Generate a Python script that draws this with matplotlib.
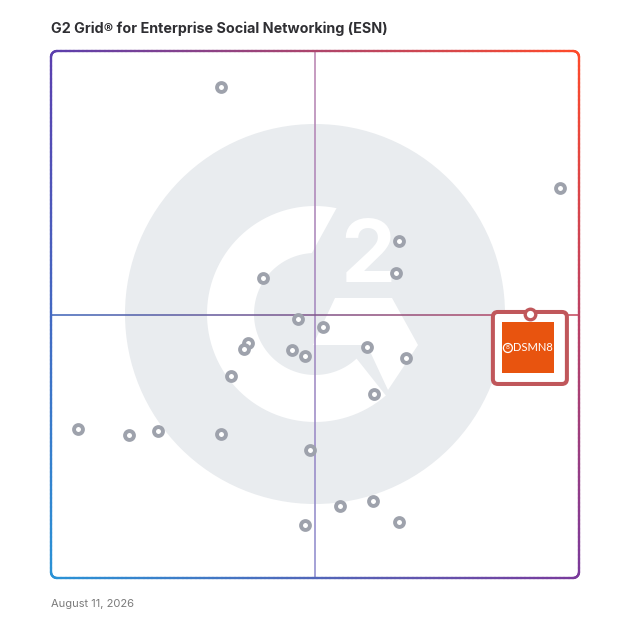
import numpy as np
import matplotlib
matplotlib.use("Agg")
import matplotlib.pyplot as plt
from matplotlib.collections import LineCollection
from matplotlib.patches import Circle, Polygon, FancyBboxPatch, Rectangle
from matplotlib.transforms import IdentityTransform
from matplotlib.colors import to_rgb

# products: (satisfaction, market presence) on a 0-100 grid
sat = [32.2, 96.4, 66.0, 65.3, 40.2, 46.7, 51.6, 37.3, 36.5, 45.6, 48.2, 59.8,
       67.3, 34.1, 61.2, 5.1, 14.7, 20.3, 32.2, 49.1, 54.7, 61.0, 48.1, 66.0]
pres = [93.2, 74.0, 63.9, 57.9, 57.0, 49.1, 47.7, 44.6, 43.5, 43.3, 42.1, 43.9,
        41.7, 38.3, 34.9, 28.3, 27.1, 27.8, 27.3, 24.3, 13.7, 14.6, 10.1, 10.7]
hl_name = "DSMN8"
hl_sat, hl_pres = 90.7, 50.1

title = "G2 Grid\u00ae for Enterprise Social Networking (ESN)"
date_txt = "August 11, 2026"

W = 628
fig = plt.figure(figsize=(W / 100, W / 100), dpi=100)

# background layer in pixel coords (y down)
bg = fig.add_axes([0, 0, 1, 1])
bg.set_xlim(0, W)
bg.set_ylim(W, 0)
bg.axis("off")

L, R, T, B = 51, 579, 51, 578
cx, cy = (L + R) / 2, (T + B) / 2

# G2 watermark
bg.add_patch(Circle((315, 314), 190, color="#e9ecef", lw=0, zorder=1))


def arc(r, a0, a1, n=80):
    a = np.radians(np.linspace(a0, a1, n))
    return np.column_stack([315 + r * np.cos(a), 314 - r * np.sin(a)])


ring = np.vstack([arc(108, 78.5, 311), arc(61, 313, 93)])
bg.add_patch(Polygon(ring, closed=True, color="white", lw=0, zorder=2))
bar = [(335, 298), (392, 298), (418, 345), (388, 390), (367, 345), (313, 345)]
bg.add_patch(Polygon(bar, closed=True, color="white", lw=0, zorder=2))
bg.text(368, 282, "2", color="white", fontsize=63, fontweight="bold",
        family="Inter", ha="center", va="baseline", zorder=2)

# gradient frame
corners = {"tl": "#5b3fae", "tr": "#ff4a2a", "bl": "#2a93d6", "br": "#7a3a9c"}
ctl, ctr, cbl, cbr = [np.array(to_rgb(corners[k])) for k in ("tl", "tr", "bl", "br")]


def grad(x, y):
    u = (x - L) / (R - L)
    v = (y - T) / (B - T)
    top = ctl * (1 - u) + ctr * u
    bot = cbl * (1 - u) + cbr * u
    return np.clip(top * (1 - v) + bot * v, 0, 1)


rad = 6
pts = []
for (x0, y0, x1, y1) in [(L + rad, T, R - rad, T), (R, T + rad, R, B - rad),
                         (R - rad, B, L + rad, B), (L, B - rad, L, T + rad)]:
    pts.append(np.column_stack([np.linspace(x0, x1, 120), np.linspace(y0, y1, 120)]))
    # corner after this side
    if x0 < x1:
        c, a0 = (R - rad, T + rad), 90
    elif y0 < y1:
        c, a0 = (R - rad, B - rad), 0
    elif x0 > x1:
        c, a0 = (L + rad, B - rad), -90
    else:
        c, a0 = (L + rad, T + rad), 180
    a = np.radians(np.linspace(a0, a0 - 90, 12))
    pts.append(np.column_stack([c[0] + rad * np.cos(a), c[1] - rad * np.sin(a)]))
path = np.vstack(pts + [pts[0][:1]])
segs = np.stack([path[:-1], path[1:]], axis=1)
mids = segs.mean(axis=1)
cols = [grad(x, y) for x, y in mids]
bg.add_collection(LineCollection(segs, colors=cols, linewidths=1.7,
                                 capstyle="round", zorder=4))

# quadrant lines
def line_grad(p0, p1, c0, c1, n=200):
    xs = np.linspace(p0[0], p1[0], n)
    ys = np.linspace(p0[1], p1[1], n)
    p = np.column_stack([xs, ys])
    s = np.stack([p[:-1], p[1:]], axis=1)
    t = np.linspace(0, 1, n - 1)[:, None]
    c = np.array(to_rgb(c0)) * (1 - t) + np.array(to_rgb(c1)) * t
    return LineCollection(s, colors=c, linewidths=1.1, zorder=3)


bg.add_collection(line_grad((cx, T), (cx, B), "#b880ae", "#8a88cc"))
bg.add_collection(line_grad((L, 315), (R, 315), "#3a62b8", "#c4455a"))

bg.text(L, 29, title, fontsize=10.3, fontweight="bold", family="Inter",
        color="#2f2f33", ha="left", va="center")
bg.text(L, 604, date_txt, fontsize=8, family="Inter", color="#7a7a7a",
        ha="left", va="center")

# data axes on the frame
ax = fig.add_axes([L / W, 1 - B / W, (R - L) / W, (B - T) / W])
ax.set_xlim(0, 100)
ax.set_ylim(0, 100)
ax.axis("off")
ax.patch.set_alpha(0)

ax.plot(sat, pres, "o", ms=6.4, mfc="white", mec="#9ea2ac", mew=2.8,
        ls="none", zorder=5)

# highlighted product card (pixel offsets from its data point)
fig.canvas.draw()
px, py = ax.transData.transform((hl_sat, hl_pres))
idt = IdentityTransform()
card = FancyBboxPatch((px - 37, py - 70), 74, 72,
                      boxstyle="round,pad=0,rounding_size=5",
                      fc="white", ec="#c0575b", lw=2.9,
                      transform=idt, clip_on=False, zorder=6)
ax.add_artist(card)
ax.add_artist(Rectangle((px - 28, py - 59), 52, 51, fc="#e8540f", lw=0,
                        transform=idt, clip_on=False, zorder=7))
ax.add_artist(Circle((px - 22, py - 34), 4.5, fc="none", ec="white", lw=0.9,
                     transform=idt, clip_on=False, zorder=8))
ax.text(px - 22, py - 34, "8", fontsize=4.5, color="white", transform=idt,
        ha="center", va="center", zorder=8)
ax.text(px + 3, py - 34, hl_name, fontsize=8, color="white", transform=idt,
        family="Lato", ha="center", va="center", zorder=8)
ax.plot([hl_sat], [hl_pres], "o", ms=7.6, mfc="white", mec="#c0575b",
        mew=2.4, zorder=9, clip_on=False)

fig.savefig("out.png", dpi=100)
